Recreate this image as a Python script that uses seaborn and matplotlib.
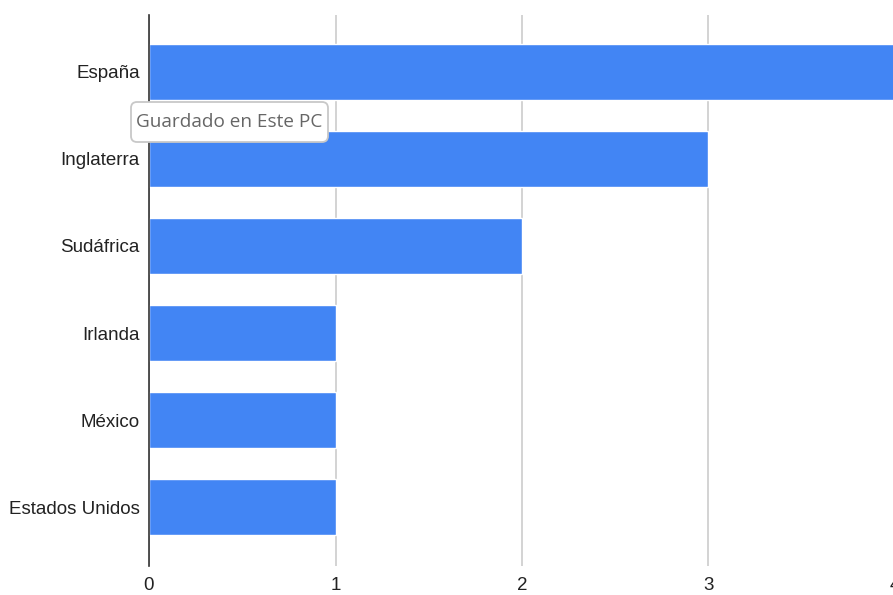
import matplotlib
matplotlib.use("Agg")
import matplotlib.pyplot as plt
from matplotlib.patches import FancyBboxPatch
from matplotlib.transforms import IdentityTransform
import seaborn as sns
import pandas as pd

countries = ["España", "Inglaterra", "Sudáfrica", "Irlanda", "México", "Estados Unidos"]
values = [4, 3, 2, 1, 1, 1]
x_ticks = [0, 1, 2, 3, 4]
tooltip_text = "Guardado en Este PC"

df = pd.DataFrame({"pais": countries, "valor": values})

sns.set_theme(style="white")
plt.rcParams["font.family"] = ["Liberation Sans", "DejaVu Sans"]

W, H = 893, 595
fig = plt.figure(figsize=(W / 100, H / 100), dpi=100)
left_px, top_px, bottom_px = 149, 15, 566
unit_px = 186.5
ax = fig.add_axes([left_px / W, 1 - bottom_px / H, 4 * unit_px / W, (bottom_px - top_px) / H])

sns.barplot(data=df, x="valor", y="pais", orient="h", color="#4285f4",
            saturation=1, width=0.64, ax=ax, zorder=3)

ax.set_xlim(0, 4)
ax.set_ylim(5.678, -0.655)
ax.set_xticks(x_ticks)
ax.set_xticklabels([str(t) for t in x_ticks], fontsize=13.5, color="#222222")
ax.tick_params(axis="y", labelsize=13.5, labelcolor="#222222", length=0, pad=6.5)
ax.tick_params(axis="x", length=0, pad=8)
ax.set_xlabel("")
ax.set_ylabel("")
ax.xaxis.grid(True, color="#cccccc", linewidth=1.2, zorder=0)
ax.set_axisbelow(True)
for s in ["top", "right", "bottom"]:
    ax.spines[s].set_visible(False)
ax.spines["left"].set_color("#333333")
ax.spines["left"].set_linewidth(1.2)
ax.spines["left"].set_zorder(5)

# tooltip box (pixel coordinates, origin bottom-left)
box = FancyBboxPatch((131, H - 142), 197, 40,
                     boxstyle="round,pad=0,rounding_size=6",
                     fc="white", ec="#c8c8c8", lw=1.3,
                     transform=IdentityTransform(), zorder=10)
fig.patches.append(box)
fig.text(229.5 / W, 1 - 122 / H, tooltip_text, ha="center", va="center",
         fontsize=13.7, color="#666666", family=["Open Sans", "DejaVu Sans"],
         zorder=11)

fig.savefig("out.png", dpi=100)
